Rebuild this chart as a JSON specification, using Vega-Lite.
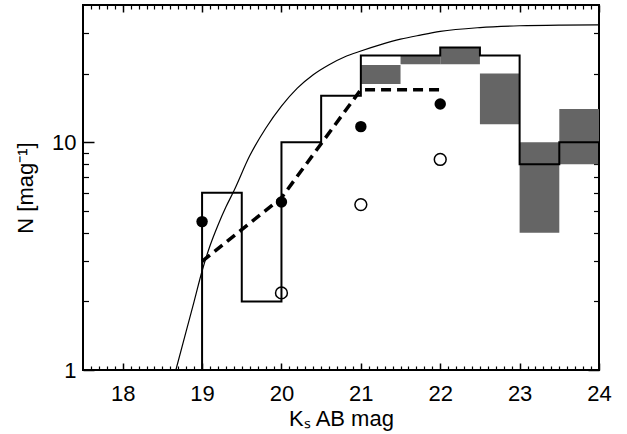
{
  "$schema": "https://vega.github.io/schema/vega-lite/v6.json",
  "width": 516,
  "height": 365,
  "autosize": {"type": "none"},
  "padding": {"left": 83, "top": 5, "right": 28, "bottom": 64},
  "config": {
    "view": {"stroke": "black", "strokeWidth": 2},
    "axis": {
      "grid": false,
      "domain": false,
      "labelFont": "Liberation Sans",
      "titleFont": "Liberation Sans",
      "labelFontSize": 22,
      "titleFontSize": 22,
      "titleFontWeight": "normal",
      "labelColor": "black",
      "titleColor": "black",
      "tickColor": "black",
      "labelFlush": false,
      "labelOverlap": false
    }
  },
  "datasets": {
    "boxes": [
      {"x1": 21, "x2": 21.5, "lo": 18, "hi": 21.8},
      {"x1": 21.5, "x2": 22, "lo": 22, "hi": 24},
      {"x1": 22, "x2": 22.5, "lo": 22, "hi": 26},
      {"x1": 22.5, "x2": 23, "lo": 12, "hi": 20},
      {"x1": 23, "x2": 23.5, "lo": 4, "hi": 10},
      {"x1": 23.5, "x2": 24, "lo": 8, "hi": 14}
    ],
    "hist": [
      {"i": 0, "mag": 17.5, "n": 1},
      {"i": 1, "mag": 19, "n": 1},
      {"i": 2, "mag": 19, "n": 6},
      {"i": 3, "mag": 19.5, "n": 2},
      {"i": 4, "mag": 20, "n": 10},
      {"i": 5, "mag": 20.5, "n": 16},
      {"i": 6, "mag": 21, "n": 24},
      {"i": 7, "mag": 22, "n": 26},
      {"i": 8, "mag": 22.5, "n": 24},
      {"i": 9, "mag": 23, "n": 8},
      {"i": 10, "mag": 23.5, "n": 10},
      {"i": 11, "mag": 24, "n": 10},
      {"i": 12, "mag": 24, "n": 6}
    ],
    "curve": [
      {"mag": 18.67, "n": 1.0},
      {"mag": 18.8, "n": 1.48},
      {"mag": 18.9, "n": 2.0},
      {"mag": 19.0, "n": 2.72},
      {"mag": 19.1, "n": 3.51},
      {"mag": 19.2, "n": 4.32},
      {"mag": 19.3, "n": 5.19},
      {"mag": 19.4, "n": 6.1},
      {"mag": 19.6, "n": 8.71},
      {"mag": 19.8, "n": 11.48},
      {"mag": 20.0, "n": 14.39},
      {"mag": 20.2, "n": 17.26},
      {"mag": 20.4, "n": 19.77},
      {"mag": 20.6, "n": 21.88},
      {"mag": 20.8, "n": 23.71},
      {"mag": 21.0, "n": 25.12},
      {"mag": 21.25, "n": 26.79},
      {"mag": 21.5, "n": 28.31},
      {"mag": 21.75, "n": 29.51},
      {"mag": 22.0, "n": 30.62},
      {"mag": 22.5, "n": 31.84},
      {"mag": 23.0, "n": 32.43},
      {"mag": 23.5, "n": 32.66},
      {"mag": 24.0, "n": 32.73}
    ],
    "dashed": [
      {"mag": 19, "n": 3.0},
      {"mag": 20, "n": 5.7},
      {"mag": 21, "n": 17},
      {"mag": 22, "n": 17}
    ],
    "filled": [
      {"mag": 19, "n": 4.48},
      {"mag": 20, "n": 5.46},
      {"mag": 21, "n": 11.7},
      {"mag": 22, "n": 14.7}
    ],
    "open": [
      {"mag": 20, "n": 2.18},
      {"mag": 21, "n": 5.32},
      {"mag": 22, "n": 8.4}
    ]
  },
  "resolve": {"axis": {"x": "independent", "y": "independent"}},
  "layer": [
    {
      "data": {"name": "boxes"},
      "mark": {"type": "rect", "color": "#656565"},
      "encoding": {
        "x": {"field": "x1", "type": "quantitative",
          "scale": {"domain": [17.5, 24], "nice": false, "zero": false},
          "axis": {"orient": "bottom", "values": [18, 19, 20, 21, 22, 23, 24], "ticks": false, "labelPadding": 13.5, "title": "Kₛ AB mag", "titlePadding": 4}},
        "x2": {"field": "x2"},
        "y": {"field": "lo", "type": "quantitative",
          "scale": {"type": "log", "domain": [1, 40], "nice": false},
          "axis": {"orient": "left", "values": [1, 10], "format": "d", "ticks": false, "labelPadding": 7, "title": "N [mag⁻¹]", "titlePadding": 14}},
        "y2": {"field": "hi"}
      }
    },
    {
      "data": {"name": "hist"},
      "mark": {"type": "line", "interpolate": "step-after", "color": "black", "strokeWidth": 2, "clip": true},
      "encoding": {
        "x": {"field": "mag", "type": "quantitative",
          "scale": {"domain": [17.5, 24], "nice": false, "zero": false},
          "axis": {"orient": "bottom", "values": [18, 19, 20, 21, 22, 23, 24], "labels": false, "tickSize": -7, "tickWidth": 1.5, "title": null}},
        "y": {"field": "n", "type": "quantitative",
          "scale": {"type": "log", "domain": [1, 40], "nice": false},
          "axis": {"orient": "left", "values": [1, 10], "labels": false, "tickSize": -11, "tickWidth": 1.5, "title": null}},
        "order": {"field": "i", "type": "quantitative"}
      }
    },
    {
      "data": {"name": "curve"},
      "mark": {"type": "line", "interpolate": "monotone", "color": "black", "strokeWidth": 1.2, "clip": true},
      "encoding": {
        "x": {"field": "mag", "type": "quantitative",
          "scale": {"domain": [17.5, 24], "nice": false, "zero": false},
          "axis": {"orient": "bottom", "values": [17.6, 17.7, 17.8, 17.9, 18.1, 18.2, 18.3, 18.4, 18.5, 18.6, 18.7, 18.8, 18.9, 19.1, 19.2, 19.3, 19.4, 19.5, 19.6, 19.7, 19.8, 19.9, 20.1, 20.2, 20.3, 20.4, 20.5, 20.6, 20.7, 20.8, 20.9, 21.1, 21.2, 21.3, 21.4, 21.5, 21.6, 21.7, 21.8, 21.9, 22.1, 22.2, 22.3, 22.4, 22.5, 22.6, 22.7, 22.8, 22.9, 23.1, 23.2, 23.3, 23.4, 23.5, 23.6, 23.7, 23.8, 23.9], "labels": false, "tickSize": -4, "tickWidth": 1.2, "title": null}},
        "y": {"field": "n", "type": "quantitative",
          "scale": {"type": "log", "domain": [1, 40], "nice": false},
          "axis": {"orient": "left", "values": [2, 3, 4, 5, 6, 7, 8, 9, 20, 30], "labels": false, "tickSize": -5.5, "tickWidth": 1.2, "title": null}}
      }
    },
    {
      "data": {"name": "dashed"},
      "mark": {"type": "line", "color": "black", "strokeWidth": 3.5, "strokeDash": [10, 6], "clip": true},
      "encoding": {
        "x": {"field": "mag", "type": "quantitative",
          "scale": {"domain": [17.5, 24], "nice": false, "zero": false},
          "axis": {"orient": "top", "values": [18, 19, 20, 21, 22, 23, 24], "labels": false, "tickSize": -7, "tickWidth": 1.5, "title": null}},
        "y": {"field": "n", "type": "quantitative",
          "scale": {"type": "log", "domain": [1, 40], "nice": false},
          "axis": {"orient": "right", "values": [1, 10], "labels": false, "tickSize": -11, "tickWidth": 1.5, "title": null}}
      }
    },
    {
      "data": {"name": "filled"},
      "mark": {"type": "point", "shape": "circle", "filled": true, "color": "black", "size": 130, "opacity": 1},
      "encoding": {
        "x": {"field": "mag", "type": "quantitative",
          "scale": {"domain": [17.5, 24], "nice": false, "zero": false},
          "axis": {"orient": "top", "values": [17.6, 17.7, 17.8, 17.9, 18.1, 18.2, 18.3, 18.4, 18.5, 18.6, 18.7, 18.8, 18.9, 19.1, 19.2, 19.3, 19.4, 19.5, 19.6, 19.7, 19.8, 19.9, 20.1, 20.2, 20.3, 20.4, 20.5, 20.6, 20.7, 20.8, 20.9, 21.1, 21.2, 21.3, 21.4, 21.5, 21.6, 21.7, 21.8, 21.9, 22.1, 22.2, 22.3, 22.4, 22.5, 22.6, 22.7, 22.8, 22.9, 23.1, 23.2, 23.3, 23.4, 23.5, 23.6, 23.7, 23.8, 23.9], "labels": false, "tickSize": -4, "tickWidth": 1.2, "title": null}},
        "y": {"field": "n", "type": "quantitative",
          "scale": {"type": "log", "domain": [1, 40], "nice": false},
          "axis": {"orient": "right", "values": [2, 3, 4, 5, 6, 7, 8, 9, 20, 30], "labels": false, "tickSize": -5.5, "tickWidth": 1.2, "title": null}}
      }
    },
    {
      "data": {"name": "open"},
      "mark": {"type": "point", "shape": "circle", "filled": false, "color": "black", "strokeWidth": 1.5, "size": 140, "opacity": 1},
      "encoding": {
        "x": {"field": "mag", "type": "quantitative",
          "scale": {"domain": [17.5, 24], "nice": false, "zero": false},
          "axis": null},
        "y": {"field": "n", "type": "quantitative",
          "scale": {"type": "log", "domain": [1, 40], "nice": false},
          "axis": null}
      }
    }
  ]
}
